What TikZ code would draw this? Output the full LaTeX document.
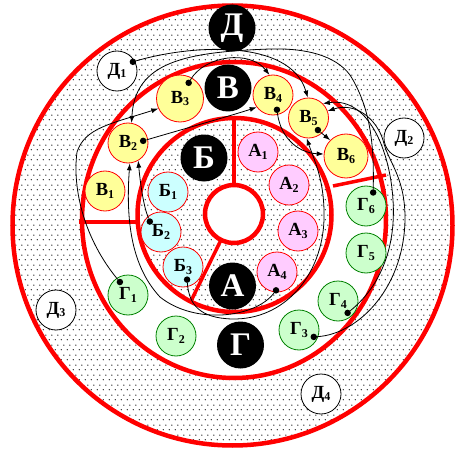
\documentclass[tikz,border=0pt]{standalone}
\usepackage{fontspec}
\setmainfont{Liberation Serif}
\usetikzlibrary{arrows.meta,calc,patterns.meta}
\definecolor{cellyellow}{RGB}{255,255,153}
\definecolor{cellpink}{RGB}{255,204,255}
\definecolor{cellcyan}{RGB}{204,255,255}
\definecolor{cellgreen}{RGB}{204,255,204}
\definecolor{cellgreenline}{RGB}{0,128,0}
\newcommand{\lbl}[2]{#1\raisebox{-2.5pt}{\fontsize{12}{12}\selectfont #2}}
\tikzdeclarepattern{
  name=sparsedots,
  type=uncolored,
  bounding box={(0pt,0pt) and (6pt,10pt)},
  tile size={(6pt,10pt)},
  code={
    \pgfpathcircle{\pgfqpoint{1.5pt}{2.5pt}}{0.75pt}
    \pgfpathcircle{\pgfqpoint{4.5pt}{7.5pt}}{0.75pt}
    \pgfusepath{fill}
  }
}

\begin{document}
\begin{tikzpicture}[x=1pt, y=-1pt,
    ring/.style={draw=red, line width=4.5pt},
    divider/.style={draw=red, line width=3.5pt},
    cell/.style={circle, minimum size=40pt, inner sep=0pt, line width=0.8pt,
        font=\fontsize{18.5}{18.5}\selectfont\bfseries},
    vcell/.style={cell, fill=cellyellow, draw=red},
    acell/.style={cell, fill=cellpink, draw=red},
    bcell/.style={cell, fill=cellcyan, draw=red},
    gcell/.style={cell, fill=cellgreen, draw=cellgreenline},
    dcell/.style={cell, fill=white, draw=black},
    hub/.style={circle, fill=black, minimum size=47pt, inner sep=0pt, text=white,
        font=\fontsize{33}{33}\selectfont\bfseries},
    dot/.style={circle, fill=black, minimum size=6.5pt, inner sep=0pt},
    flow/.style={draw, line width=0.8pt, -{Latex[length=7pt,width=5pt]}}
]
\useasboundingbox (0,0) rectangle (461,452);
\fill[white] (0,0) rectangle (461,452);
% dotted zones
\fill[pattern=sparsedots, even odd rule] (232.5,225.5) circle (220) (234,220) ellipse (152 and 158);
\fill[pattern=sparsedots, even odd rule] (234.5,215) circle (97) (234,214) circle (29);
% rings and dividers
\draw[ring] (232.5,225.5) circle (220);
\draw[ring] (234,220) ellipse (152 and 158);
\draw[ring] (234.5,215) circle (97);
\draw[ring] (234,214) circle (29);
\draw[divider] (234,118) -- (234,185);
\draw[divider] (221,240) -- (190,303);
\draw[divider] (79,222) -- (137,222);
\draw[divider] (333,186) -- (386,175);

% outer zone
\node[dcell] (d1) at (117,71) {\lbl{Д}{1}};
\node[dcell] (d2) at (404,138) {\lbl{Д}{2}};
\node[dcell] (d3) at (56,310) {\lbl{Д}{3}};
\node[dcell] (d4) at (321,394) {\lbl{Д}{4}};
% upper half of the middle zone
\node[vcell] (v1) at (105,191) {\lbl{В}{1}};
\node[vcell] (v2) at (128,143) {\lbl{В}{2}};
\node[vcell, minimum size=47pt] (v3) at (180,98.5) {\lbl{В}{3}};
\node[vcell] (v4) at (273,95) {\lbl{В}{4}};
\node[vcell] (v5) at (308.5,118) {\lbl{В}{5}};
\node[vcell, minimum size=44pt] (v6) at (346,156) {\lbl{В}{6}};
% lower half of the middle zone
\node[gcell] (g1) at (128,295) {\lbl{Г}{1}};
\node[gcell] (g2) at (176,336) {\lbl{Г}{2}};
\node[gcell] (g3) at (299,330) {\lbl{Г}{3}};
\node[gcell] (g4) at (338,301) {\lbl{Г}{4}};
\node[gcell] (g5) at (366,253) {\lbl{Г}{5}};
\node[gcell] (g6) at (366,206) {\lbl{Г}{6}};
% inner zone
\node[acell] (a1) at (258,152) {\lbl{А}{1}};
\node[acell] (a2) at (289,185) {\lbl{А}{2}};
\node[acell] (a3) at (298,231) {\lbl{А}{3}};
\node[acell] (a4) at (277,272) {\lbl{А}{4}};
\node[bcell] (b1) at (168,192) {\lbl{Б}{1}};
\node[bcell] (b2) at (161,232) {\lbl{Б}{2}};
\node[bcell] (b3) at (183,267) {\lbl{Б}{3}};
% zone names
\node[hub] (hd) at (232,28) {Д};
\node[hub] (hv) at (228,88) {В};
\node[hub] (hb) at (204,158) {Б};
\node[hub] (ha) at (232.5,286) {А};
\node[hub] (hg) at (240.5,345) {Г};

% sources
\node[dot] (d1x) at ($(d1)!.9!(d1.30)$) {};
\node[dot] (v3x) at ($(v3)!.75!(v3.61)$) {};
\node[dot] (v2x) at ($(v2)!.75!(v2.8)$) {};
\node[dot] (v4x) at ($(v4)!.75!(v4.-75)$) {};
\node[dot] (v5x) at ($(v5)!.75!(v5.-52)$) {};
\node[dot] (g6x) at ($(g6)!.75!(g6.62)$) {};
\node[dot] (b2x) at ($(b2)!.75!(b2.137)$) {};
\node[dot] (b3x) at ($(b3)!.65!(b3.-72)$) {};
\node[dot] (g1x) at ($(g1)!.75!(g1.122)$) {};
\node[dot] (a4x) at ($(a4)!.9!(a4.-93)$) {};
\node[dot] (g4x) at ($(g4)!.75!(g4.-51)$) {};
\node[dot] (g3x) at ($(g3)!.8!(g3.-25)$) {};

% flows
\draw[flow] (d1x) .. controls (190,45) and (290,38) .. (v5.92);
\draw[flow] (g6x) .. controls (374,150) and (372,110) .. (350,75)
    .. controls (335,55) and (305,48) .. (270,49)
    .. controls (185,52) and (135,62) .. (v2.80);
\draw[flow] (v3x) .. controls (205,55) and (250,50) .. (v4.100);
\draw[flow] (v2x) .. controls (180,130) and (230,116) .. (v4.217);
\draw[flow] (v4x) .. controls (281,140) and (300,153) .. (v6.175);
\draw[flow] (v5x) -- (v6.135);
\draw[flow] (g1x) .. controls (85,240) and (72,190) .. (77,152)
    .. controls (85,128) and (110,124) .. (v3.205);
\draw[flow] (b2x) .. controls (143,205) and (140,180) .. (v2.-60);
\draw[flow] (a4x) .. controls (255,318) and (195,325) .. (160,297)
    .. controls (135,270) and (125,230) .. (v2.-85);
\draw[flow] (b3x) .. controls (189,305) and (200,318) .. (232,319)
    .. controls (285,320) and (322,275) .. (324,220)
    .. controls (325,180) and (314,160) .. (v5.-95);
\draw[flow] (g4x) .. controls (382,285) and (396,245) .. (393,200)
    .. controls (390,150) and (368,97) .. (v5.45);
\draw[flow] (g3x) .. controls (360,334) and (406,285) .. (405,215)
    .. controls (404,175) and (388,162) .. (383,140)
    .. controls (376,118) and (355,102) .. (v5.20);
\end{tikzpicture}
\end{document}
